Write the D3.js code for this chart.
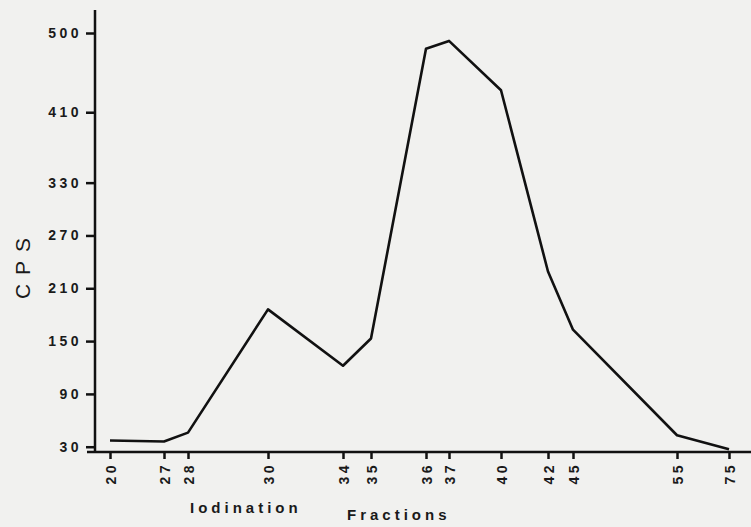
<!DOCTYPE html>
<html>

<head>
    <meta charset="utf-8">
    <style>
        body {
            margin: 0;
            background: #f1f1ef;
        }

        svg {
            display: block;
            background: #f1f1ef;
            font-family: 'Liberation Sans', Arial, sans-serif;
        }

        .axis .domain {
            stroke: #111;
            stroke-width: 2.5px;
        }

        .axis .tick line {
            stroke: #111;
            stroke-width: 2.5px;
        }

        .axis .tick text {
            font-size: 14px;
            font-weight: bold;
            fill: #1a1a1a;
            letter-spacing: 3.5px;
        }
    </style>
</head>

<body>
    <svg width="751" height="527"></svg>
</body>

<script src="https://d3js.org/d3.v7.min.js"></script>

<script>
    // fraction numbers along the bottom (not evenly spaced on the paper)
    let fractions = [20, 27, 28, 30, 34, 35, 36, 37, 40, 42, 45, 55, 75]
    // counts per second, one per fraction
    let cps = [37, 36, 46, 186, 122, 153, 482, 491, 435, 229, 163, 43, 27]
    // y tick labels as printed
    let yTicks = [30, 90, 150, 210, 270, 330, 410, 500]

    let width = 751;
    let height = 527;

    let svg = d3.select("body").select("svg")

    let margin = { top: 10, left: 95, bottom: 452 }

    // the drawn axis is hand spaced, so the x scale is polylinear
    // range spots are where each fraction sits along the axis
    let x = d3.scaleLinear()
        .domain(fractions)
        .range([110, 164, 188, 268, 343, 371, 426, 449, 501, 548, 573, 677, 729])

    let y = d3.scaleLinear()
        .domain([24, 500])
        .range([margin.bottom, 33])

    // y axis
    let yAxisSettings = d3.axisLeft(y)
        .tickValues(yTicks)
        .tickSize(9)
        .tickPadding(4)
        .tickSizeOuter(0)

    let yAxisTicks = svg.append("g")
        .attr("class", "y axis")
        .attr("transform", `translate(${margin.left},0)`)
        .call(yAxisSettings)

    // stretch the axis line up past the top tick
    yAxisTicks.select(".domain")
        .attr("d", `M0,${margin.top}V${margin.bottom}`)

    // x axis
    let xAxisSettings = d3.axisBottom(x)
        .tickValues(fractions)
        .tickSize(7)
        .tickSizeOuter(0)
        .tickFormat(d3.format("d"))

    let xAxisTicks = svg.append("g")
        .attr("class", "x axis")
        .attr("transform", `translate(0,${margin.bottom})`)
        .call(xAxisSettings)

    xAxisTicks.select(".domain")
        .attr("d", `M${margin.left - 8},0H${width}`)

    // labels turned on their side, reading upward
    xAxisTicks.selectAll(".tick text")
        .attr("transform", "rotate(-90)")
        .attr("x", -10)
        .attr("y", 0)
        .attr("dy", "0.36em")
        .attr("text-anchor", "end")

    let line = d3.line()
        .x((d, i) => x(fractions[i]))
        .y(d => y(d))

    svg.append("path")
        .datum(cps)
        .attr("d", line)
        .style("fill", "none")
        .style("stroke", "#111")
        .style("stroke-width", "2.6px")
        .style("stroke-linejoin", "round")

    // axis titles
    svg.append("text")
        .attr("transform", "translate(30,264) rotate(-90)")
        .attr("text-anchor", "middle")
        .style("font-size", "21px")
        .style("letter-spacing", "9px")
        .style("fill", "#1a1a1a")
        .text("CPS")

    svg.append("text")
        .attr("x", 190)
        .attr("y", 513)
        .style("font-size", "15px")
        .style("font-weight", "bold")
        .style("letter-spacing", "4px")
        .style("fill", "#1a1a1a")
        .text("Iodination")

    svg.append("text")
        .attr("x", 347)
        .attr("y", 520)
        .style("font-size", "15px")
        .style("font-weight", "bold")
        .style("letter-spacing", "4px")
        .style("fill", "#1a1a1a")
        .text("Fractions")
</script>

</html>
